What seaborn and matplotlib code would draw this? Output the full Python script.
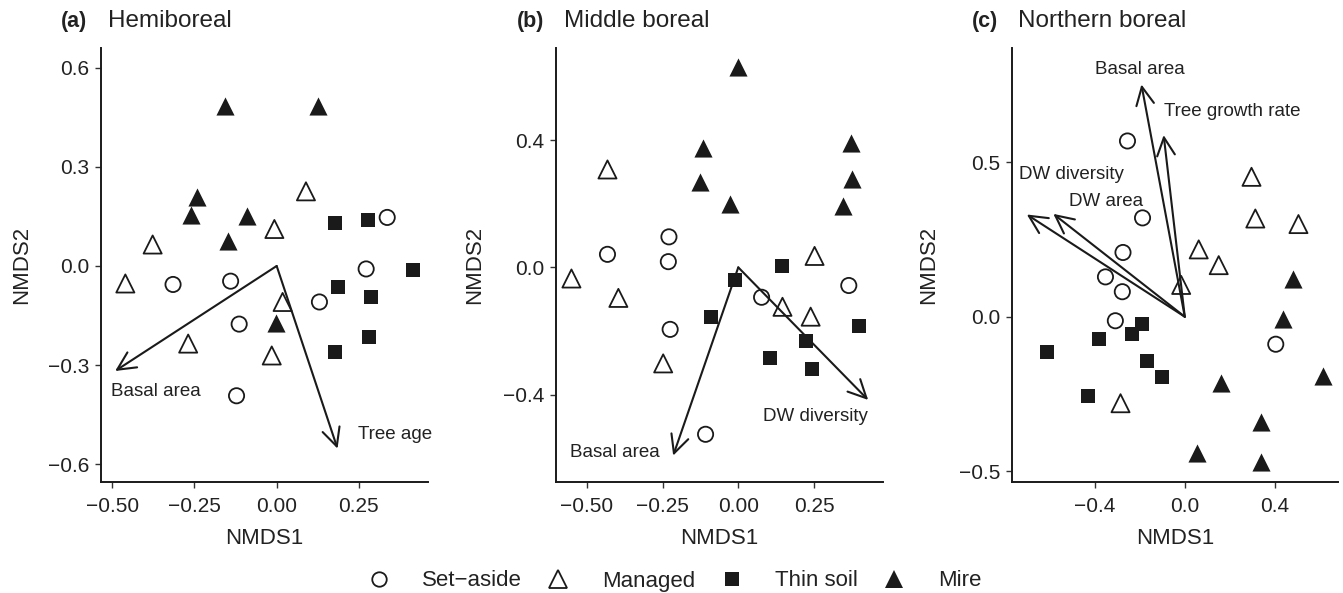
import numpy as np
import pandas as pd
import matplotlib
matplotlib.use("Agg")
import matplotlib.pyplot as plt
from matplotlib.lines import Line2D
import seaborn as sns

sns.set_style("ticks")
plt.rcParams['font.family'] = ['Liberation Sans', 'DejaVu Sans']

INK = "#1a1a1a"
groups = ["Set\u2212aside", "Managed", "Thin soil", "Mire"]

# ---------------- Panel (a) Hemiboreal ----------------
hemi_setaside_x = [0.336, 0.272, -0.315, -0.140, 0.130, -0.114, -0.122]
hemi_setaside_y = [0.147, -0.009, -0.056, -0.046, -0.109, -0.176, -0.393]
hemi_managed_x = [0.089, -0.007, -0.377, -0.460, 0.018, -0.269, -0.015]
hemi_managed_y = [0.226, 0.112, 0.065, -0.053, -0.109, -0.235, -0.271]
hemi_thin_x = [0.177, 0.278, 0.413, 0.185, 0.286, 0.280, 0.177]
hemi_thin_y = [0.130, 0.138, -0.011, -0.064, -0.094, -0.215, -0.261]
hemi_mire_x = [-0.156, 0.127, -0.242, -0.261, -0.089, -0.149, -0.002]
hemi_mire_y = [0.484, 0.484, 0.209, 0.154, 0.151, 0.075, -0.173]
hemi_vec_names = ["Basal area", "Tree age"]
hemi_vec_x = [-0.491, 0.185]
hemi_vec_y = [-0.318, -0.553]

# ---------------- Panel (b) Middle boreal ----------------
mid_setaside_x = [-0.229, -0.432, -0.231, 0.365, 0.077, -0.225, -0.108]
mid_setaside_y = [0.096, 0.041, 0.018, -0.057, -0.094, -0.195, -0.525]
mid_managed_x = [-0.432, 0.252, -0.551, -0.396, 0.146, 0.239, -0.248]
mid_managed_y = [0.308, 0.036, -0.035, -0.096, -0.124, -0.155, -0.302]
mid_thin_x = [0.146, -0.012, -0.090, 0.400, 0.223, 0.105, 0.243]
mid_thin_y = [0.005, -0.040, -0.155, -0.184, -0.231, -0.285, -0.320]
mid_mire_x = [-0.001, -0.115, 0.373, -0.125, 0.376, -0.028, 0.347]
mid_mire_y = [0.631, 0.376, 0.390, 0.269, 0.278, 0.199, 0.193]
mid_vec_names = ["Basal area", "DW diversity"]
mid_vec_x = [-0.215, 0.429]
mid_vec_y = [-0.592, -0.417]

# ---------------- Panel (c) Northern boreal ----------------
north_setaside_x = [-0.255, -0.188, -0.275, -0.353, -0.278, -0.309, 0.405]
north_setaside_y = [0.569, 0.320, 0.208, 0.129, 0.081, -0.013, -0.089]
north_managed_x = [0.297, 0.314, 0.506, 0.062, 0.151, -0.016, -0.286]
north_managed_y = [0.453, 0.318, 0.300, 0.218, 0.167, 0.103, -0.280]
north_thin_x = [-0.192, -0.381, -0.233, -0.615, -0.170, -0.103, -0.431]
north_thin_y = [-0.024, -0.073, -0.057, -0.113, -0.143, -0.194, -0.257]
north_mire_x = [0.481, 0.435, 0.617, 0.161, 0.341, 0.053, 0.341]
north_mire_y = [0.121, -0.007, -0.191, -0.214, -0.342, -0.440, -0.469]
north_vec_names = ["Basal area", "Tree growth rate", "DW diversity", "DW area"]
north_vec_x = [-0.193, -0.094, -0.703, -0.585]
north_vec_y = [0.752, 0.588, 0.331, 0.333]


def make_df(xs, ys):
    rows = []
    for g, x, y in zip(groups, xs, ys):
        rows.append(pd.DataFrame({"NMDS1": x, "NMDS2": y, "group": g}))
    return pd.concat(rows, ignore_index=True)


panels = [
    dict(tag="(a)", title="Hemiboreal",
         df=make_df([hemi_setaside_x, hemi_managed_x, hemi_thin_x, hemi_mire_x],
                    [hemi_setaside_y, hemi_managed_y, hemi_thin_y, hemi_mire_y]),
         vn=hemi_vec_names, vx=hemi_vec_x, vy=hemi_vec_y,
         lab=[(-0.368, -0.380), (0.360, -0.511)],
         xlim=(-0.534, 0.46), ylim=(-0.655, 0.66),
         xt=[-0.5, -0.25, 0, 0.25], xfmt="{:.2f}",
         yt=[-0.6, -0.3, 0, 0.3, 0.6], yfmt="{:.1f}",
         pos=(101, 428), tagx=61, titlex=108, ylabx=22),
    dict(tag="(b)", title="Middle boreal",
         df=make_df([mid_setaside_x, mid_managed_x, mid_thin_x, mid_mire_x],
                    [mid_setaside_y, mid_managed_y, mid_thin_y, mid_mire_y]),
         vn=mid_vec_names, vx=mid_vec_x, vy=mid_vec_y,
         lab=[(-0.409, -0.582), (0.256, -0.470)],
         xlim=(-0.602, 0.477), ylim=(-0.676, 0.69),
         xt=[-0.5, -0.25, 0, 0.25], xfmt="{:.2f}",
         yt=[-0.4, 0, 0.4], yfmt="{:.1f}",
         pos=(556, 882.7), tagx=516.7, titlex=564, ylabx=475),
    dict(tag="(c)", title="Northern boreal",
         df=make_df([north_setaside_x, north_managed_x, north_thin_x, north_mire_x],
                    [north_setaside_y, north_managed_y, north_thin_y, north_mire_y]),
         vn=north_vec_names, vx=north_vec_x, vy=north_vec_y,
         lab=[(-0.198, 0.801), (0.213, 0.666), (-0.504, 0.459), (-0.349, 0.372)],
         xlim=(-0.769, 0.682), ylim=(-0.536, 0.87),
         xt=[-0.4, 0, 0.4], xfmt="{:.1f}",
         yt=[-0.5, 0, 0.5], yfmt="{:.1f}",
         pos=(1012, 1338), tagx=971.7, titlex=1018, ylabx=929),
]

style = {
    groups[0]: dict(marker="o", s=120, facecolor="none", lw=1.3),
    groups[1]: dict(marker="^", s=170, facecolor="none", lw=1.3),
    groups[2]: dict(marker="s", s=110, facecolor=INK, lw=0),
    groups[3]: dict(marker="^", s=170, facecolor=INK, lw=0),
}

W, H = 1343, 593
fig = plt.figure(figsize=(W / 100, H / 100), dpi=100)
top_px, bot_px = 48, 482.3

for p in panels:
    l, r = p["pos"]
    ax = fig.add_axes([l / W, 1 - bot_px / H, (r - l) / W, (bot_px - top_px) / H])
    df = p["df"]
    for g in groups:
        st = style[g]
        sns.scatterplot(data=df[df["group"] == g], x="NMDS1", y="NMDS2", ax=ax,
                        marker=st["marker"], s=st["s"], color=INK,
                        facecolor=st["facecolor"], edgecolor=INK,
                        linewidth=st["lw"], legend=False, zorder=3)
    for name, vx, vy, (lx, ly) in zip(p["vn"], p["vx"], p["vy"], p["lab"]):
        ax.annotate("", xy=(vx, vy), xytext=(0, 0),
                    arrowprops=dict(arrowstyle="->,head_length=0.65,head_width=0.32",
                                    lw=1.5, color=INK, shrinkA=0, shrinkB=0,
                                    mutation_scale=20), zorder=2)
        ax.text(lx, ly, name, ha="center", va="center", fontsize=13.5, color="#222222")
    ax.set_xlim(*p["xlim"])
    ax.set_ylim(*p["ylim"])
    ax.set_xticks(p["xt"])
    ax.set_xticklabels([p["xfmt"].format(v).replace("-", "\u2212") for v in p["xt"]])
    ax.set_yticks(p["yt"])
    ax.set_yticklabels([p["yfmt"].format(v).replace("-", "\u2212") for v in p["yt"]])
    ax.set_xlabel("NMDS1", fontsize=16, color="#222222", labelpad=9)
    ax.set_ylabel("")
    ax.tick_params(axis="both", labelsize=15, labelcolor="#222222", length=4.5,
                   width=1.0, color="#333333", pad=4)
    ax.tick_params(axis="x", pad=6)
    for side in ["top", "right"]:
        ax.spines[side].set_visible(False)
    for side in ["left", "bottom"]:
        ax.spines[side].set_linewidth(1.4)
        ax.spines[side].set_color(INK)
    ax.set_facecolor("white")
    fig.text(p["ylabx"] / W, 1 - 265 / H, "NMDS2", rotation=90, ha="center",
             va="center", fontsize=16, color="#222222")
    fig.text(p["tagx"] / W, 1 - 22 / H, p["tag"], ha="left", va="center",
             fontsize=15.5, fontweight="bold", color="#222222")
    fig.text(p["titlex"] / W, 1 - 21 / H, p["title"], ha="left", va="center",
             fontsize=17.5, color="#222222")

handles = []
for g in groups:
    st = style[g]
    handles.append(Line2D([], [], linestyle="none", marker=st["marker"],
                          markersize=np.sqrt(st["s"]) * 0.95,
                          markerfacecolor=st["facecolor"], markeredgecolor=INK,
                          markeredgewidth=st["lw"] if st["lw"] > 0 else 0))
fig.legend(handles, groups, loc="center", bbox_to_anchor=(0.5, 1 - 581 / H),
           ncol=4, frameon=False, fontsize=16, handlelength=1.5,
           handletextpad=1.2, columnspacing=0.9, labelcolor="#222222")

fig.savefig("out.png", dpi=100, facecolor="white")
